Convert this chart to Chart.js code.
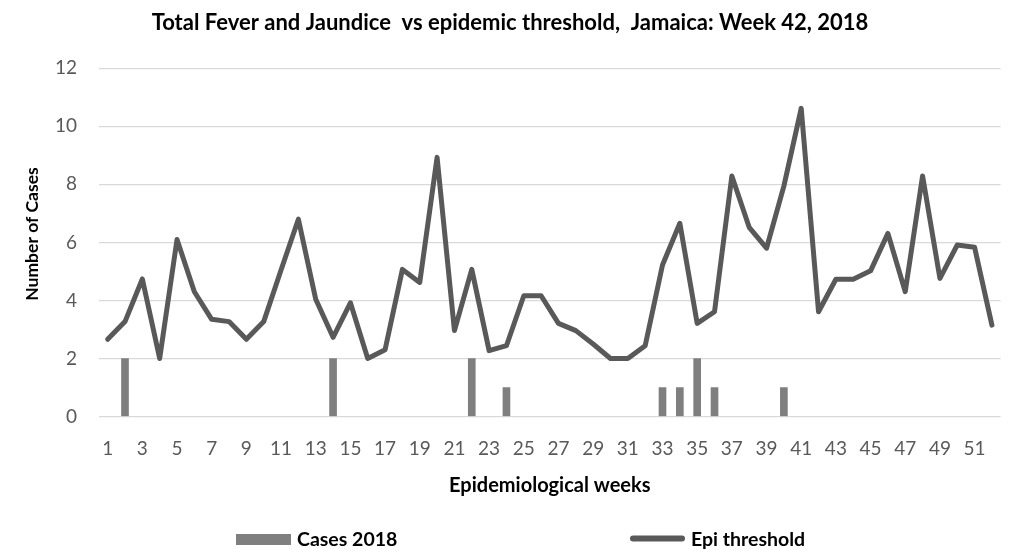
<!DOCTYPE html>
<html>
<head>
<meta charset="utf-8">
<script src="https://cdn.jsdelivr.net/npm/chart.js@4/dist/chart.umd.min.js"></script>
<style>
  html, body { margin: 0; padding: 0; background: #ffffff; }
  #wrap { width: 1013px; height: 550px; }
</style>
</head>
<body>
<div id="wrap"><canvas id="c" width="1013" height="550"></canvas></div>
<script>
// Epidemiological weeks 1-52
const weeks = [1, 2, 3, 4, 5, 6, 7, 8, 9, 10, 11, 12, 13, 14, 15, 16, 17, 18, 19, 20,
  21, 22, 23, 24, 25, 26, 27, 28, 29, 30, 31, 32, 33, 34, 35, 36, 37, 38, 39, 40,
  41, 42, 43, 44, 45, 46, 47, 48, 49, 50, 51, 52];

// Week numbers printed under the axis
const weekTicks = [1, 3, 5, 7, 9, 11, 13, 15, 17, 19, 21, 23, 25, 27, 29, 31, 33, 35,
  37, 39, 41, 43, 45, 47, 49, 51];

// Reported cases in 2018 (weeks 1-42)
const cases2018 = [0, 2, 0, 0, 0, 0, 0, 0, 0, 0, 0, 0, 0, 2, 0, 0, 0, 0, 0, 0,
  0, 2, 0, 1, 0, 0, 0, 0, 0, 0, 0, 0, 1, 1, 2, 1, 0, 0, 0, 1,
  0, 0];

// Epidemic threshold per week
const epiThreshold = [2.66, 3.27, 4.74, 2.0, 6.1, 4.3, 3.35, 3.27, 2.66, 3.27,
  5.05, 6.8, 4.04, 2.73, 3.92, 2.0, 2.3, 5.07, 4.62, 8.93,
  2.96, 5.07, 2.27, 2.44, 4.16, 4.16, 3.21, 2.96, 2.5, 2.0,
  2.0, 2.44, 5.22, 6.66, 3.21, 3.61, 8.29, 6.52, 5.8, 7.94,
  10.62, 3.61, 4.73, 4.73, 5.02, 6.31, 4.3, 8.29, 4.76, 5.91,
  5.83, 3.15];

const yTicks = [0, 2, 4, 6, 8, 10, 12];

const FONT = 'Lato, "Open Sans", sans-serif';
const BAR_COLOR = '#7f7f7f';
const LINE_COLOR = '#595959';

// Chart heading, vertical axis caption and the legend row
const headingAndLegend = {
  id: 'headingAndLegend',
  afterDraw(chart) {
    const ctx = chart.ctx;
    ctx.save();
    ctx.fillStyle = '#000000';
    ctx.textBaseline = 'middle';

    ctx.font = 'bold 22px ' + FONT;
    ctx.textAlign = 'center';
    ctx.fillText('Total Fever and Jaundice  vs epidemic threshold,  Jamaica: Week 42, 2018', 510, 23);

    // y-axis caption, rotated
    ctx.save();
    ctx.translate(32, 234);
    ctx.rotate(-Math.PI / 2);
    ctx.font = 'bold 17.5px ' + FONT;
    ctx.fillText('Number of Cases', 0, 0);
    ctx.restore();

    // bar series key
    ctx.fillStyle = BAR_COLOR;
    ctx.fillRect(236, 534, 55, 11);
    ctx.fillStyle = '#000000';
    ctx.textAlign = 'left';
    ctx.font = 'bold 19.5px ' + FONT;
    ctx.fillText('Cases 2018', 297, 540);

    // line series key
    ctx.strokeStyle = LINE_COLOR;
    ctx.lineWidth = 6;
    ctx.lineCap = 'round';
    ctx.beginPath();
    ctx.moveTo(633, 538.5);
    ctx.lineTo(682, 538.5);
    ctx.stroke();
    ctx.fillText('Epi threshold', 691, 540);
    ctx.restore();
  }
};

new Chart(document.getElementById('c'), {
  type: 'bar',
  data: {
    labels: weeks,
    datasets: [
      {
        type: 'line',
        label: 'Epi threshold',
        data: epiThreshold,
        borderColor: LINE_COLOR,
        backgroundColor: LINE_COLOR,
        borderWidth: 5,
        pointRadius: 0,
        tension: 0,
        borderJoinStyle: 'round',
        borderCapStyle: 'round',
        order: 0
      },
      {
        type: 'bar',
        label: 'Cases 2018',
        // weeks without cases get no bar at all
        data: cases2018.map(v => (v === 0 ? null : v)),
        backgroundColor: BAR_COLOR,
        barThickness: 7,
        order: 1
      }
    ]
  },
  options: {
    responsive: false,
    animation: false,
    layout: { padding: { top: 68.3, right: 7, bottom: 43.5, left: 0 } },
    plugins: {
      legend: { display: false },
      title: { display: false },
      tooltip: { enabled: false }
    },
    scales: {
      x: {
        grid: { display: false, drawTicks: false },
        border: { display: false },
        ticks: {
          color: LINE_COLOR,
          font: { family: FONT, size: 19 },
          padding: 21,
          autoSkip: false,
          maxRotation: 0,
          minRotation: 0,
          callback(value, index) {
            const w = weeks[index];
            return weekTicks.includes(w) ? String(w) : '';
          }
        },
        title: {
          display: true,
          text: 'Epidemiological weeks',
          color: '#000000',
          font: { family: FONT, size: 20, weight: 'bold' },
          padding: { top: 0, bottom: 8.5 }
        },
        afterFit(scale) { scale.height = 90; }
      },
      y: {
        min: 0,
        max: 12,
        grid: { color: '#d9d9d9', lineWidth: 1.3, drawTicks: false },
        border: { display: false },
        ticks: {
          color: LINE_COLOR,
          font: { family: FONT, size: 19 },
          padding: 22,
          stepSize: 2,
          callback(value) {
            return yTicks.includes(value) ? String(value) : '';
          }
        },
        afterFit(scale) { scale.width = 99; }
      }
    }
  },
  plugins: [headingAndLegend]
});
</script>
</body>
</html>
